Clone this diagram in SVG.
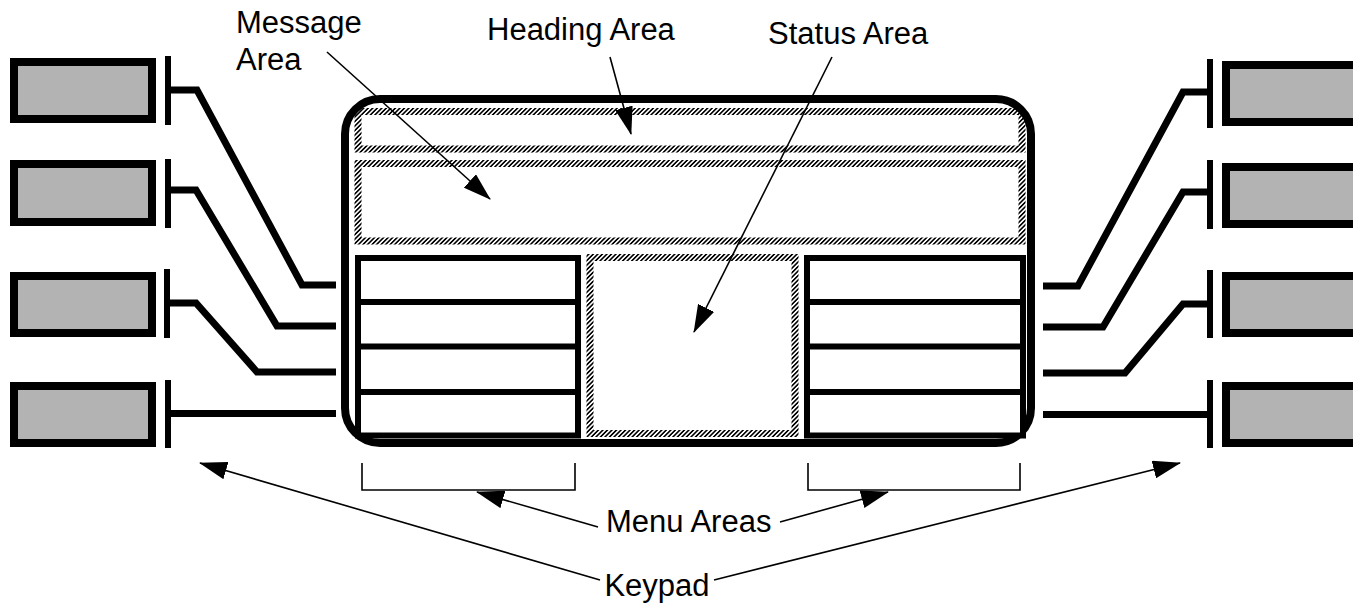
<svg xmlns="http://www.w3.org/2000/svg" width="1353" height="609" viewBox="0 0 1353 609">
  <style>
    .key { fill: #b3b3b3; stroke: #000; stroke-width: 8; }
    .bar { stroke: #000; stroke-width: 6; fill: none; }
    .lead { stroke: #000; stroke-width: 7; fill: none; stroke-linejoin: miter; }
    .hatch { fill: none; stroke: url(#hatch); stroke-width: 7; }
    .menu { fill: #fff; stroke: #000; stroke-width: 6; }
    .rule { stroke: #000; stroke-width: 6; }
    .pointer { stroke: #000; stroke-width: 1.6; fill: none; marker-end: url(#head); }
    .bracket { stroke: #000; stroke-width: 1.6; fill: none; }
    .label { font-family: "Liberation Sans", Arial, sans-serif; font-size: 31px; fill: #000; }
  </style>
  <defs>
    <pattern id="hatch" patternUnits="userSpaceOnUse" width="3.2" height="3.2" patternTransform="rotate(45)">
      <rect width="3.2" height="3.2" fill="#fff"/>
      <rect width="1.6" height="3.2" fill="#000"/>
    </pattern>
    <marker id="head" viewBox="0 0 28 18" refX="27" refY="9" markerWidth="28" markerHeight="18" markerUnits="userSpaceOnUse" orient="auto">
      <path d="M0,0 L28,9 L0,18 z" fill="#000"/>
    </marker>
  </defs>

  <rect width="1353" height="609" fill="#fff"/>

  <!-- keypad keys, left column -->
  <g id="key-l1"><rect class="key" x="14" y="62" width="138" height="57"/><line class="bar" x1="168" y1="56" x2="168" y2="125"/></g>
  <g id="key-l2"><rect class="key" x="14" y="164" width="138" height="58"/><line class="bar" x1="168" y1="159" x2="168" y2="228"/></g>
  <g id="key-l3"><rect class="key" x="14" y="276" width="138" height="57"/><line class="bar" x1="167" y1="269" x2="167" y2="338"/></g>
  <g id="key-l4"><rect class="key" x="14" y="386" width="138" height="57"/><line class="bar" x1="168" y1="380" x2="168" y2="448"/></g>

  <!-- keypad keys, right column (run off the edge) -->
  <g id="key-r1"><rect class="key" x="1226" y="65" width="150" height="57"/><line class="bar" x1="1210" y1="59" x2="1210" y2="128"/></g>
  <g id="key-r2"><rect class="key" x="1226" y="167" width="150" height="57"/><line class="bar" x1="1210" y1="160" x2="1210" y2="229"/></g>
  <g id="key-r3"><rect class="key" x="1226" y="276" width="150" height="57"/><line class="bar" x1="1210" y1="270" x2="1210" y2="338"/></g>
  <g id="key-r4"><rect class="key" x="1226" y="386" width="150" height="57"/><line class="bar" x1="1210" y1="380" x2="1210" y2="448"/></g>

  <!-- display -->
  <g id="display">
    <rect class="hatch" x="358" y="111.5" width="664" height="37.5"/>
    <rect class="hatch" x="358" y="163.5" width="664" height="77.5"/>
    <rect class="hatch" x="590" y="257.5" width="205" height="176"/>
    <rect x="345" y="99" width="686" height="344" rx="35" ry="35" fill="none" stroke="#000" stroke-width="8"/>
  </g>

  <g id="menu-left">
    <rect class="menu" x="358" y="258" width="220" height="177.5"/>
    <line class="rule" x1="358" y1="302" x2="578" y2="302"/>
    <line class="rule" x1="358" y1="346.5" x2="578" y2="346.5"/>
    <line class="rule" x1="358" y1="392" x2="578" y2="392"/>
  </g>
  <g id="menu-right">
    <rect class="menu" x="807" y="258" width="216" height="177.5"/>
    <line class="rule" x1="807" y1="302" x2="1023" y2="302"/>
    <line class="rule" x1="807" y1="346.5" x2="1023" y2="346.5"/>
    <line class="rule" x1="807" y1="392" x2="1023" y2="392"/>
  </g>

  <!-- key-to-menu leads -->
  <g id="leads">
    <path class="lead" d="M169,90 H197 L302,285 H336"/>
    <path class="lead" d="M169,190 H196 L277,326 H336"/>
    <path class="lead" d="M169,303 H196 L257,372 H336"/>
    <path class="lead" d="M169,413.5 H336"/>
    <path class="lead" d="M1210,92 H1183 L1078,286 H1043"/>
    <path class="lead" d="M1210,192 H1183 L1103,327 H1043"/>
    <path class="lead" d="M1210,304 H1183 L1125,373 H1043"/>
    <path class="lead" d="M1210,414.5 H1043"/>
  </g>

  <!-- callouts -->
  <g id="callouts">
    <path class="bracket" d="M362,463 V490 H575 V463"/>
    <path class="bracket" d="M808,463 V490 H1020 V463"/>
    <line class="pointer" x1="327" y1="52" x2="490" y2="199"/>
    <line class="pointer" x1="610" y1="57" x2="631" y2="134"/>
    <line class="pointer" x1="832" y1="57" x2="694" y2="332"/>
    <line class="pointer" x1="598" y1="527" x2="477" y2="492"/>
    <line class="pointer" x1="780" y1="522" x2="888" y2="492"/>
    <line class="pointer" x1="600" y1="580" x2="200" y2="463"/>
    <line class="pointer" x1="714" y1="580" x2="1180" y2="463"/>
  </g>

  <g id="labels">
    <text class="label" x="236" y="33">Message</text>
    <text class="label" x="236" y="70">Area</text>
    <text class="label" x="487" y="40">Heading Area</text>
    <text class="label" x="768" y="44">Status Area</text>
    <text class="label" x="606" y="532">Menu Areas</text>
    <text class="label" x="657" y="596" text-anchor="middle">Keypad</text>
  </g>
</svg>
